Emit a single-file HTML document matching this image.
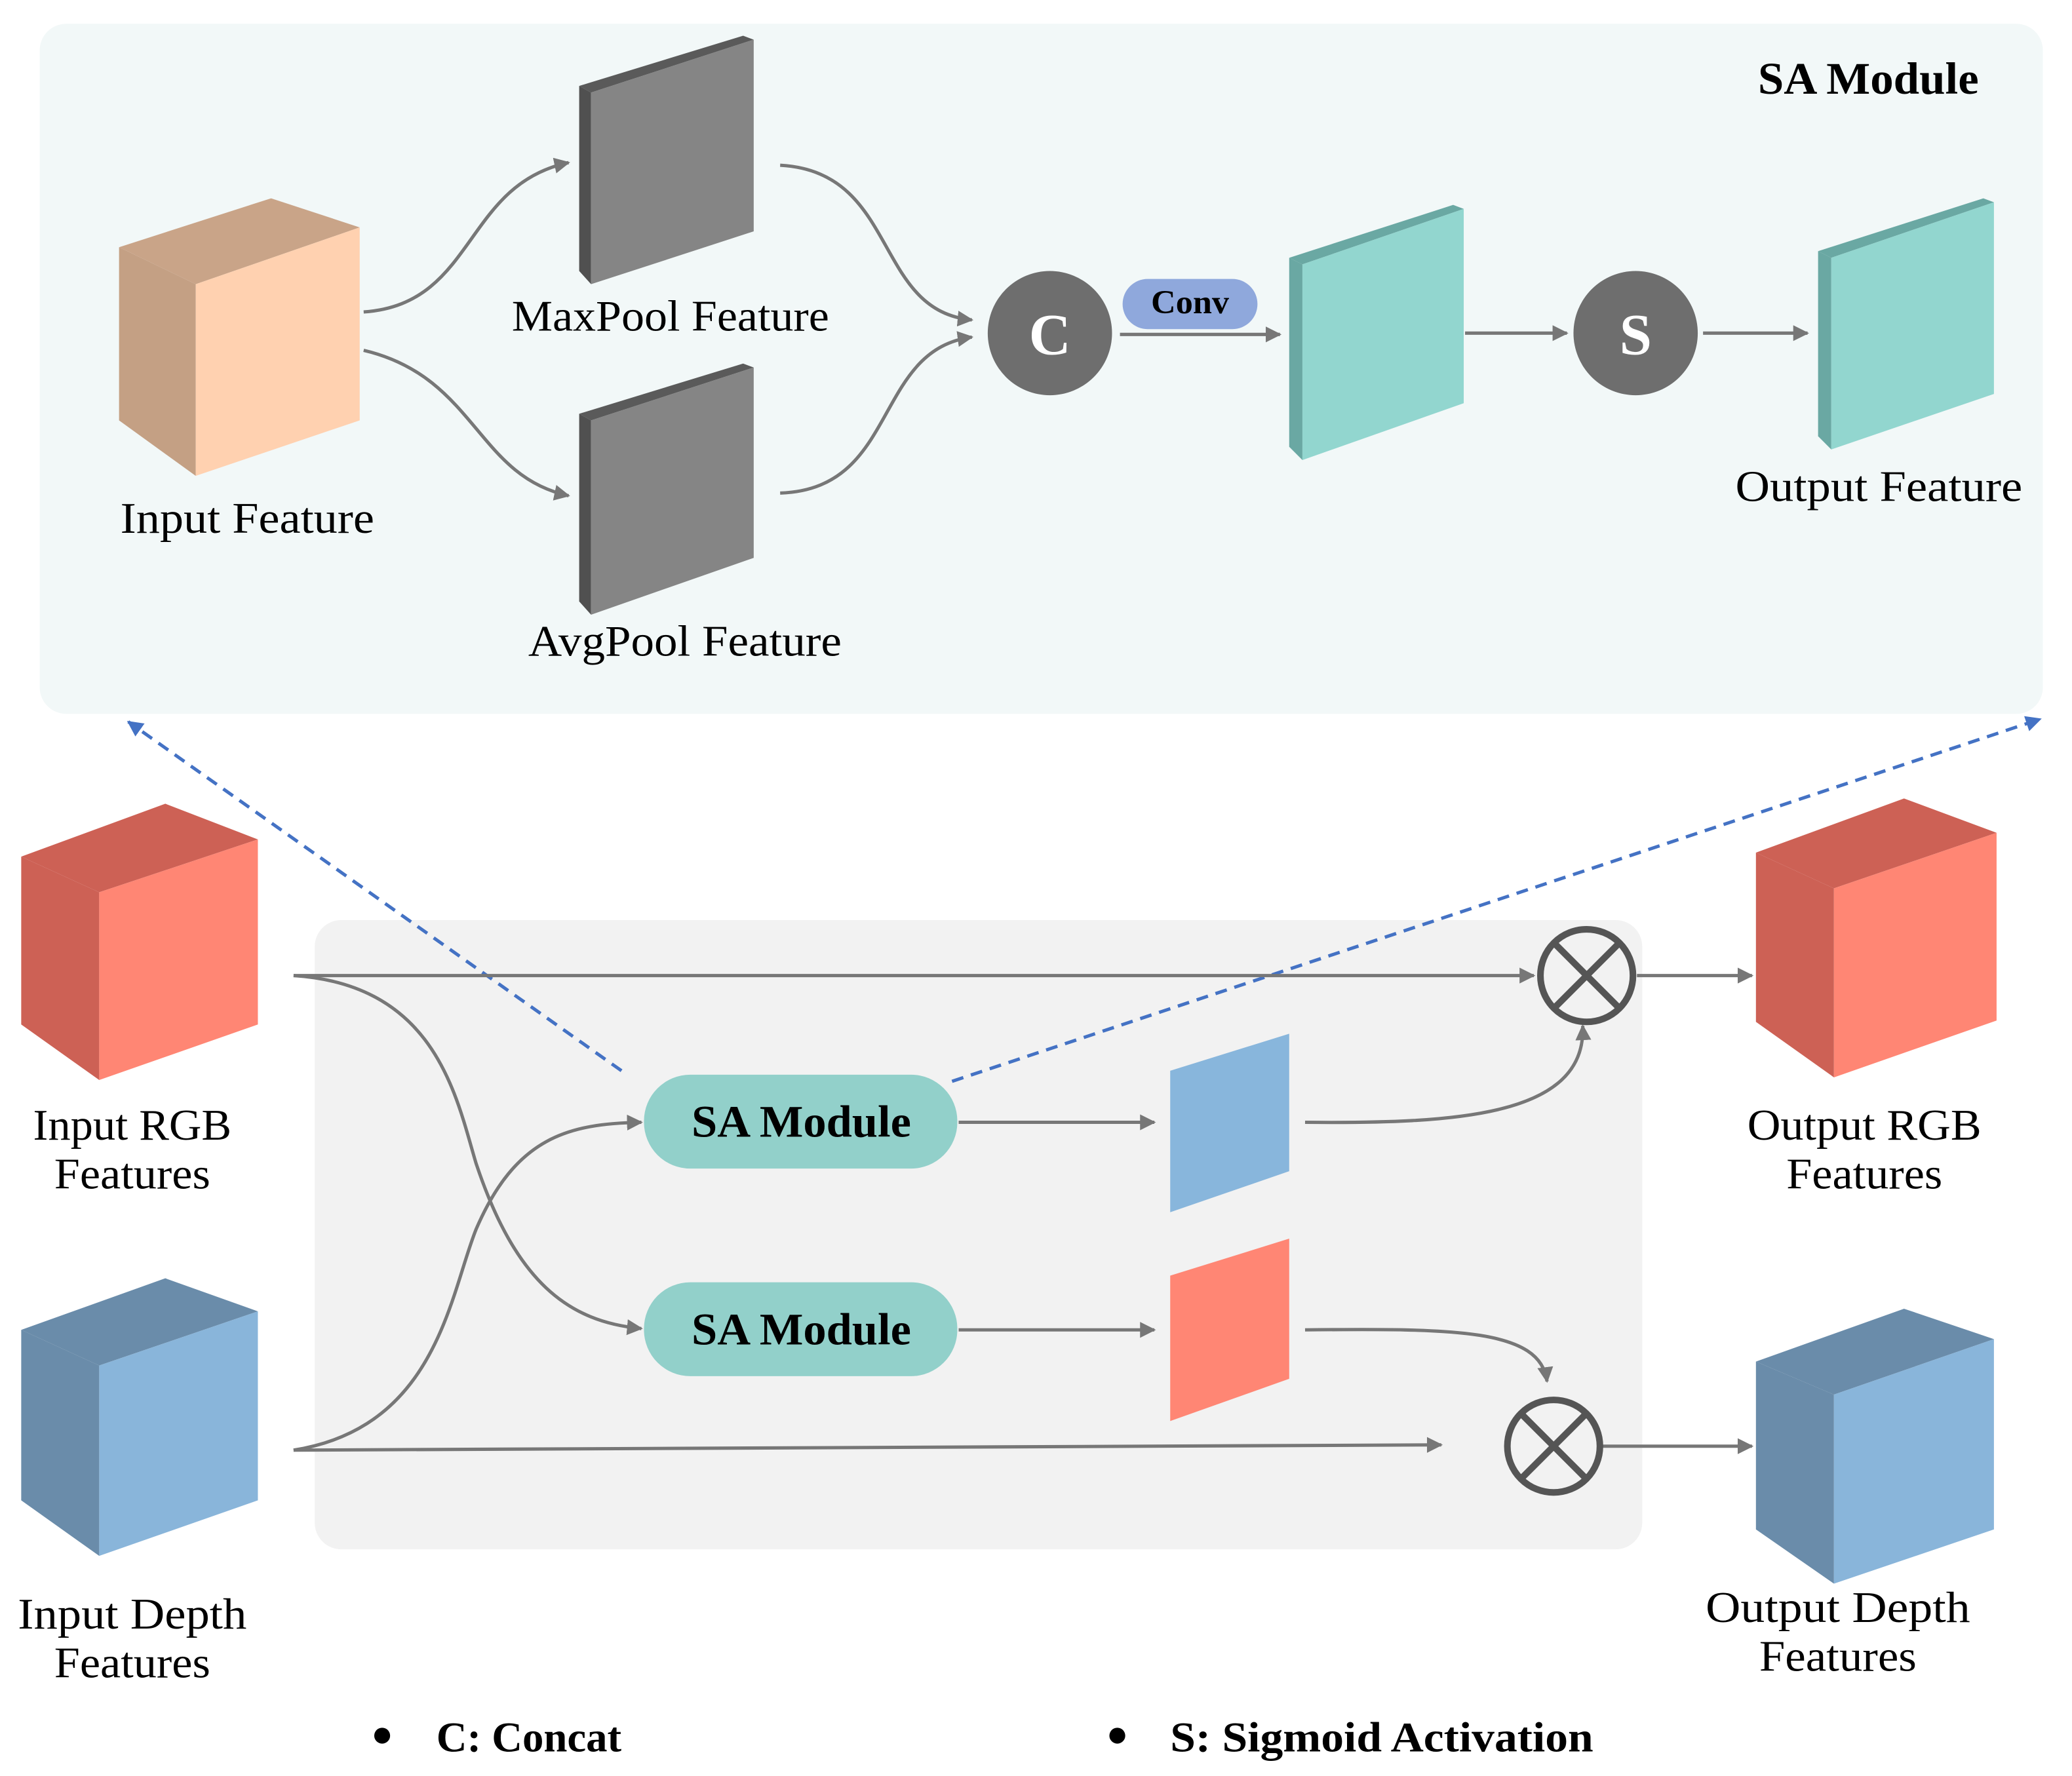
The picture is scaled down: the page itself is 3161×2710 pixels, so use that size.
<!DOCTYPE html>
<html><head><meta charset="utf-8"><style>html,body{margin:0;padding:0;background:#fff}svg{display:block}</style></head>
<body>
<svg width="3161" height="2710" viewBox="0 0 1567 1343.5" xmlns="http://www.w3.org/2000/svg" font-family="'Liberation Serif', serif">
<defs>
<marker id="ar" markerWidth="12" markerHeight="12" refX="9" refY="5" orient="auto" markerUnits="userSpaceOnUse" viewBox="0 0 10 10"><path d="M0,0 L10,5 L0,10 z" fill="#777"/></marker>
<marker id="ab" markerWidth="12" markerHeight="12" refX="9" refY="5" orient="auto" markerUnits="userSpaceOnUse" viewBox="0 0 10 10"><path d="M0,0 L10,5 L0,10 z" fill="#4472c4"/></marker>
</defs>
<rect x="30" y="18" width="1515" height="522" rx="20" fill="#f2f8f8"/>
<text x="1413" y="71" font-size="34" font-weight="bold" text-anchor="middle" textLength="167" lengthAdjust="spacingAndGlyphs">SA Module</text>
<polygon points="90,187 148,215 148,360 90,318" fill="#c4a084"/>
<polygon points="90,187 205,150 272,172 148,215" fill="#c9a488"/>
<polygon points="148,215 272,172 272,318 148,360" fill="#ffd1b0"/>
<text x="187" y="403" font-size="33" text-anchor="middle" textLength="192" lengthAdjust="spacingAndGlyphs">Input Feature</text>
<polygon points="438,65 562,27 570,30 447,70" fill="#5a5a5a"/>
<polygon points="438,65 447,70 447,215 438,205" fill="#505050"/>
<polygon points="447,70 570,30 570,175 447,215" fill="#858585"/>
<text x="507" y="250" font-size="33" text-anchor="middle" textLength="240" lengthAdjust="spacingAndGlyphs">MaxPool Feature</text>
<polygon points="438,313 562,275 570,278 447,318" fill="#5a5a5a"/>
<polygon points="438,313 447,318 447,465 438,455" fill="#505050"/>
<polygon points="447,318 570,278 570,422 447,465" fill="#858585"/>
<text x="518" y="496" font-size="33" text-anchor="middle" textLength="237" lengthAdjust="spacingAndGlyphs">AvgPool Feature</text>
<g fill="none" stroke="#777" stroke-width="2.5">
<path d="M275,236 C360,230 350,140 430,123" marker-end="url(#ar)"/>
<path d="M275,265 C360,285 360,360 430,375" marker-end="url(#ar)"/>
<path d="M590,125 C680,130 660,235 735,242" marker-end="url(#ar)"/>
<path d="M590,373 C680,370 660,265 735,255" marker-end="url(#ar)"/>
<path d="M847,253 L968,253" marker-end="url(#ar)"/>
<path d="M1108,252 L1185,252" marker-end="url(#ar)"/>
<path d="M1288,252 L1367,252" marker-end="url(#ar)"/>
</g>
<circle cx="794" cy="252" r="47" fill="#6e6e6e"/>
<text x="794" y="268" font-size="44" font-weight="bold" fill="#fff" text-anchor="middle">C</text>
<rect x="849" y="211" width="102" height="38" rx="19" fill="#8fa8dc"/>
<text x="900" y="237" font-size="25" font-weight="bold" text-anchor="middle" textLength="59" lengthAdjust="spacingAndGlyphs">Conv</text>
<polygon points="975,195 1099,155 1107,158 985,200" fill="#6aa8a3"/>
<polygon points="975,195 985,200 985,348 975,338" fill="#6aa8a3"/>
<polygon points="985,200 1107,158 1107,305 985,348" fill="#92d6cf"/>
<circle cx="1237" cy="252" r="47" fill="#6e6e6e"/>
<text x="1237" y="268" font-size="44" font-weight="bold" fill="#fff" text-anchor="middle">S</text>
<polygon points="1375,190 1500,150 1508,153 1385,195" fill="#6aa8a3"/>
<polygon points="1375,190 1385,195 1385,340 1375,330" fill="#6aa8a3"/>
<polygon points="1385,195 1508,153 1508,298 1385,340" fill="#92d6cf"/>
<text x="1421" y="379" font-size="33" text-anchor="middle" textLength="217" lengthAdjust="spacingAndGlyphs">Output Feature</text>
<rect x="238" y="696" width="1004" height="476" rx="20" fill="#f2f2f2"/>
<g fill="none" stroke="#4472c4" stroke-width="2.5" stroke-dasharray="9,6">
<path d="M470,810 L97,546" marker-end="url(#ab)"/>
<path d="M720,818 L1543,544" marker-end="url(#ab)"/>
</g>
<polygon points="16,648 75,675 75,817 16,775" fill="#cd6155"/>
<polygon points="16,648 125,608 195,635 75,675" fill="#cd6155"/>
<polygon points="75,675 195,635 195,775 75,817" fill="#ff8674"/>
<text x="100" y="862" font-size="33" text-anchor="middle" textLength="150" lengthAdjust="spacingAndGlyphs">Input RGB</text>
<text x="100" y="899" font-size="33" text-anchor="middle" textLength="118" lengthAdjust="spacingAndGlyphs">Features</text>
<polygon points="16,1006 75,1033 75,1177 16,1135" fill="#6a8caa"/>
<polygon points="16,1006 125,967 195,992 75,1033" fill="#6a8caa"/>
<polygon points="75,1033 195,992 195,1135 75,1177" fill="#89b5da"/>
<text x="100" y="1232" font-size="33" text-anchor="middle" textLength="173" lengthAdjust="spacingAndGlyphs">Input Depth</text>
<text x="100" y="1269" font-size="33" text-anchor="middle" textLength="118" lengthAdjust="spacingAndGlyphs">Features</text>
<polygon points="1328,645 1387,672 1387,815 1328,773" fill="#cd6155"/>
<polygon points="1328,645 1440,604 1510,630 1387,672" fill="#cd6155"/>
<polygon points="1387,672 1510,630 1510,772 1387,815" fill="#ff8674"/>
<text x="1410" y="862" font-size="33" text-anchor="middle" textLength="177" lengthAdjust="spacingAndGlyphs">Output RGB</text>
<text x="1410" y="899" font-size="33" text-anchor="middle" textLength="118" lengthAdjust="spacingAndGlyphs">Features</text>
<polygon points="1328,1030 1387,1055 1387,1198 1328,1157" fill="#6a8caa"/>
<polygon points="1328,1030 1440,990 1508,1013 1387,1055" fill="#6a8caa"/>
<polygon points="1387,1055 1508,1013 1508,1157 1387,1198" fill="#89b5da"/>
<text x="1390" y="1227" font-size="33" text-anchor="middle" textLength="200" lengthAdjust="spacingAndGlyphs">Output Depth</text>
<text x="1390" y="1264" font-size="33" text-anchor="middle" textLength="119" lengthAdjust="spacingAndGlyphs">Features</text>
<g fill="none" stroke="#777" stroke-width="2.5">
<path d="M222,738 L1160,738" marker-end="url(#ar)"/>
<path d="M1238,738 L1325,738" marker-end="url(#ar)"/>
<path d="M222,738 C330,745 345,830 360,880 C390,970 430,1000 485,1005" marker-end="url(#ar)"/>
<path d="M222,1097 C330,1080 340,980 360,930 C390,860 430,850 485,849" marker-end="url(#ar)"/>
<path d="M222,1097 L1090,1093" marker-end="url(#ar)"/>
<path d="M725,849 L873,849" marker-end="url(#ar)"/>
<path d="M725,1006 L873,1006" marker-end="url(#ar)"/>
<path d="M987,849 C1100,850 1200,845 1197,776" marker-end="url(#ar)"/>
<path d="M987,1006 C1100,1005 1165,1005 1170,1045" marker-end="url(#ar)"/>
<path d="M1212,1094 L1325,1094" marker-end="url(#ar)"/>
</g>
<g fill="none" stroke="#555" stroke-width="5">
<circle cx="1200" cy="738" r="35"/>
<path d="M1175,713 L1225,763 M1225,713 L1175,763"/>
<circle cx="1175" cy="1094" r="35"/>
<path d="M1150,1069 L1200,1119 M1200,1069 L1150,1119"/>
</g>
<rect x="487" y="813" width="237" height="71" rx="35" fill="#92d0ca"/>
<text x="606" y="860" font-size="34" font-weight="bold" text-anchor="middle" textLength="166" lengthAdjust="spacingAndGlyphs">SA Module</text>
<rect x="487" y="970" width="237" height="71" rx="35" fill="#92d0ca"/>
<text x="606" y="1017" font-size="34" font-weight="bold" text-anchor="middle" textLength="166" lengthAdjust="spacingAndGlyphs">SA Module</text>
<polygon points="885,810 975,782 975,886 885,917" fill="#88b6dc"/>
<polygon points="885,965 975,937 975,1043 885,1075" fill="#ff8674"/>
<circle cx="289" cy="1313" r="6" fill="#000"/>
<text x="330" y="1325" font-size="32" font-weight="bold" textLength="140" lengthAdjust="spacingAndGlyphs">C: Concat</text>
<circle cx="845" cy="1313" r="6" fill="#000"/>
<text x="885" y="1325" font-size="32" font-weight="bold" textLength="320" lengthAdjust="spacingAndGlyphs">S: Sigmoid Activation</text>
</svg>
</body></html>
